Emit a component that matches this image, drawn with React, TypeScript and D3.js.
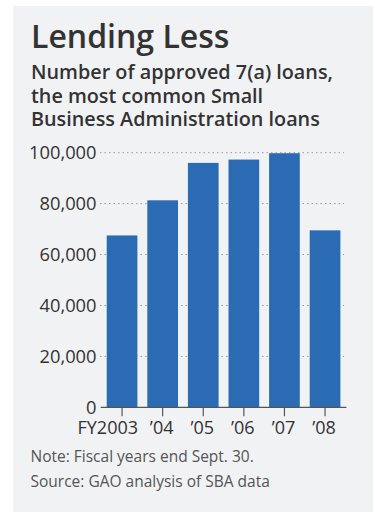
import React from "react";
import * as d3 from "d3";

const years = ["FY2003", "’04", "’05", "’06", "’07", "’08"];
const loans = [67500, 81300, 96000, 97300, 99800, 69500];
const yTicks = [0, 20000, 40000, 60000, 80000, 100000];
const subtitleLines = [
  "Number of approved 7(a) loans,",
  "the most common Small",
  "Business Administration loans",
];
const noteLines = ["Note: Fiscal years end Sept. 30.", "Source: GAO analysis of SBA data"];

const FONT = "'Open Sans', sans-serif";

export default function App() {
  const x = d3.scaleBand<string>().domain(years).range([100.7, 346.4]).paddingInner(0.244).paddingOuter(0.148);
  const y = d3.scaleLinear().domain([0, 100000]).range([407.3, 152.7]);
  const fmt = d3.format(",");
  const cx = (c: string) => x(c)! + x.bandwidth() / 2;
  return (
    <svg width={375} height={512} style={{ position: "absolute", left: 0, top: 0 }}>
      <rect x={13} y={6} width={360} height={506} fill="#f1f2f4" />
      <text x={31} y={48} fontFamily={FONT} fontWeight={600} fontSize={32} fill="#333">Lending Less</text>
      {subtitleLines.map((t, i) => (
        <text key={i} x={31} y={79 + i * 23.7} fontFamily={FONT} fontWeight={600} fontSize={19.8} fill="#333">{t}</text>
      ))}
      {yTicks.filter((v) => v > 0).map((v) => (
        <line key={v} x1={100} x2={344} y1={y(v)} y2={y(v)} stroke="#999" strokeWidth={1} strokeDasharray="1.5,3" />
      ))}
      {years.map((c, i) => (
        <rect key={c} x={x(c)} y={y(loans[i])} width={x.bandwidth()} height={y(0) - y(loans[i])} fill="#2a6bb3" />
      ))}
      <line x1={100.7} x2={346.4} y1={y(0)} y2={y(0)} stroke="#555" strokeWidth={1.2} />
      {years.map((c, i) => (
        <g key={c}>
          <line x1={cx(c)} x2={cx(c)} y1={y(0)} y2={y(0) + 9} stroke="#555" strokeWidth={1.2} />
          <text x={i === 0 ? cx(c) + 16 : cx(c) - 1} y={434} textAnchor={i === 0 ? "end" : "middle"} fontFamily={FONT} fontSize={18} fill="#333">{c}</text>
        </g>
      ))}
      {yTicks.map((v) => (
        <text key={v} x={96.5} y={y(v) + 6.5} textAnchor="end" fontFamily={FONT} fontSize={18.3} fill="#333">{fmt(v)}</text>
      ))}
      {noteLines.map((t, i) => (
        <text key={i} x={30.5} y={462 + i * 24.5} fontFamily={FONT} fontSize={15.5} fill="#555">{t}</text>
      ))}
    </svg>
  );
}
